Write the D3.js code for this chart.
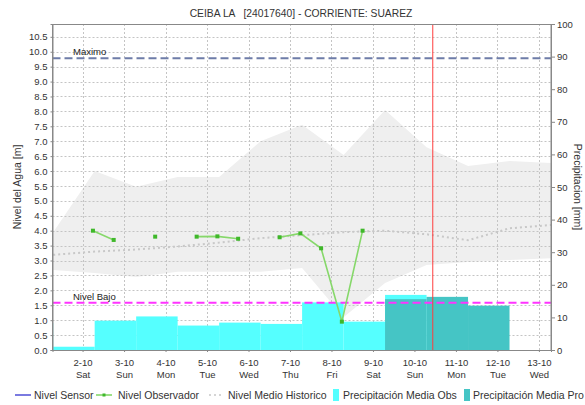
<!DOCTYPE html>
<html>
<head>
<meta charset="utf-8">
<script src="https://cdn.jsdelivr.net/npm/d3@7/dist/d3.min.js"></script>
<style>
  html, body { margin: 0; padding: 0; background: #fff; }
  svg { display: block; font-family: "Liberation Sans", Arial, sans-serif; }
</style>
</head>
<body>
<svg id="chart" width="585" height="405"></svg>
<script>
// ---- data ----
const title = "CEIBA LA   [24017640] - CORRIENTE: SUAREZ";
const year = 2021, month = 9; // October (0-based)

// x-axis day labels
const tickDays = [2, 3, 4, 5, 6, 7, 8, 9, 10, 11, 12, 13];
const tickDates = ["2-10", "3-10", "4-10", "5-10", "6-10", "7-10", "8-10", "9-10", "10-10", "11-10", "12-10", "13-10"];
const tickWeekdays = ["Sat", "Sun", "Mon", "Tue", "Wed", "Thu", "Fri", "Sat", "Sun", "Mon", "Tue", "Wed"];

// left and right axis ticks
const levelTicks = [0.0, 0.5, 1.0, 1.5, 2.0, 2.5, 3.0, 3.5, 4.0, 4.5, 5.0, 5.5, 6.0, 6.5, 7.0, 7.5, 8.0, 8.5, 9.0, 9.5, 10.0, 10.5];
const precipTicks = [0, 10, 20, 30, 40, 50, 60, 70, 80, 90, 100];

// daily precipitation (each bar covers day 07:00 -> next day 07:00; day 0 = 30-9)
const precipObsDay = [0, 1, 2, 3, 4, 5, 6, 7, 8, 9];
const precipObsMm = [8.3, 1.0, 9.0, 10.3, 7.5, 8.4, 8.0, 14.6, 8.7, 16.9];
const precipProDay = [9, 10, 11];
const precipProMm = [15.6, 16.3, 13.6];

// observer readings (day, hour, level); null = no reading
const obsDay = [2, 2, 3, 3, 4, 4, 5, 5, 6, 6, 7, 7, 8, 8];
const obsHour = [6, 18, 6, 18, 6, 18, 6, 18, 6, 18, 6, 18, 6, 18];
const obsLevel = [4.00, 3.69, null, 3.80, null, 3.80, 3.81, 3.73, null, 3.78, 3.91, 3.41, 0.95, 4.00];

// historic level envelope and mean, at 07:00 each day
const histDay = [1, 2, 3, 4, 5, 6, 7, 8, 9, 10, 11, 12, 13];
const histUpper = [3.95, 6.00, 5.47, 5.80, 5.80, 7.00, 7.55, 6.54, 8.05, 6.80, 6.17, 6.34, 6.27];
const histLower = [2.68, 2.58, 2.45, 2.62, 2.62, 2.62, 2.75, 1.10, 2.25, 2.85, 2.95, 3.02, 3.08];
const histMean = [3.19, 3.30, 3.37, 3.47, 3.60, 3.75, 3.85, 3.95, 4.00, 3.88, 3.68, 4.08, 4.19];

// reference levels
const levelMaximo = 9.78;
const levelBajo = 1.58;
const nowDay = 10, nowHour = 10.6;

// legend entries
const legendLabels = ["Nivel Sensor", "Nivel Observador", "Nivel Medio Historico", "Precipitación Media Obs", "Precipitación Media Pro"];

// ---- layout ----
const svg = d3.select("#chart");
const L = 52.5, R = 551, T = 24, B = 350;
const date = (d, h) => new Date(Date.UTC(year, month, d, 0, 0) + h * 3600e3);

const x = d3.scaleUtc().domain([date(1, 6.6), date(13, 7)]).range([L, R]);
const y = d3.scaleLinear().domain([0, 10.93]).range([B, T]);
const yP = d3.scaleLinear().domain([0, 100]).range([B, T]);

svg.append("defs").append("clipPath").attr("id", "plotclip")
  .append("rect").attr("x", L).attr("y", T).attr("width", R - L).attr("height", B - T);

const plot = svg.append("g").attr("clip-path", "url(#plotclip)");

// historic envelope
const hist = histDay.map((d, i) => ({ t: date(d, 7), lo: histLower[i], hi: histUpper[i], mean: histMean[i] }));
plot.append("path").datum(hist)
  .attr("fill", "#efefef")
  .attr("d", d3.area().x(d => x(d.t)).y0(d => y(d.lo)).y1(d => y(d.hi)));

// grid
const grid = plot.append("g").attr("stroke", "#c4c4c4").attr("stroke-width", 1).attr("stroke-dasharray", "2,2");
grid.selectAll("line.h").data(levelTicks).join("line")
  .attr("x1", L).attr("x2", R).attr("y1", d => Math.round(y(d)) + 0.5).attr("y2", d => Math.round(y(d)) + 0.5);
grid.selectAll("line.v").data(tickDays).join("line")
  .attr("y1", T).attr("y2", B).attr("x1", d => Math.round(x(date(d, 0))) + 0.5).attr("x2", d => Math.round(x(date(d, 0))) + 0.5);

// historic mean (dotted)
plot.append("path").datum(hist)
  .attr("fill", "none").attr("stroke", "#c8c8c8").attr("stroke-width", 2).attr("stroke-dasharray", "2,3")
  .attr("d", d3.line().x(d => x(d.t)).y(d => y(d.mean)));

// precipitation bars
plot.append("g").selectAll("rect").data(precipObsDay.map((d, i) => ({ d, v: precipObsMm[i] }))).join("rect")
  .attr("fill", "#55ffff")
  .attr("x", p => x(date(p.d, 7))).attr("width", p => x(date(p.d + 1, 7)) - x(date(p.d, 7)))
  .attr("y", p => yP(p.v)).attr("height", p => B - yP(p.v));
plot.append("g").selectAll("rect").data(precipProDay.map((d, i) => ({ d, v: precipProMm[i] }))).join("rect")
  .attr("fill", "#45c5c5")
  .attr("x", p => x(date(p.d, 7))).attr("width", p => x(date(p.d + 1, 7)) - x(date(p.d, 7)))
  .attr("y", p => yP(p.v)).attr("height", p => B - yP(p.v));

// reference lines
plot.append("line").attr("x1", L).attr("x2", R).attr("y1", y(levelMaximo)).attr("y2", y(levelMaximo))
  .attr("stroke", "#6e7ca8").attr("stroke-width", 2).attr("stroke-dasharray", "8,4");
plot.append("line").attr("x1", L).attr("x2", R).attr("y1", y(levelBajo)).attr("y2", y(levelBajo))
  .attr("stroke", "#ff33ff").attr("stroke-width", 2).attr("stroke-dasharray", "8,4");
svg.append("text").attr("x", 73).attr("y", y(levelMaximo) - 3).attr("font-size", 9.5).attr("fill", "#222").text("Maximo");
svg.append("text").attr("x", 73).attr("y", y(levelBajo) - 3).attr("font-size", 9.5).attr("fill", "#222").text("Nivel Bajo");

// observer readings
const obs = obsDay.map((d, i) => ({ t: date(d, obsHour[i]), v: obsLevel[i] }));
plot.append("path").datum(obs)
  .attr("fill", "none").attr("stroke", "#86d86a").attr("stroke-width", 1.6)
  .attr("d", d3.line().defined(d => d.v !== null).x(d => x(d.t)).y(d => y(d.v)));
plot.append("g").selectAll("rect").data(obs.filter(d => d.v !== null)).join("rect")
  .attr("fill", "#3fb82a")
  .attr("x", d => x(d.t) - 2).attr("y", d => y(d.v) - 2).attr("width", 4).attr("height", 4);

// current time marker
plot.append("line").attr("x1", x(date(nowDay, nowHour))).attr("x2", x(date(nowDay, nowHour)))
  .attr("y1", T).attr("y2", B).attr("stroke", "#ff3c3c").attr("stroke-width", 1);

// frame
svg.append("rect").attr("x", L).attr("y", T + 0.5).attr("width", R - L).attr("height", B - T)
  .attr("fill", "none").attr("stroke", "#888").attr("stroke-width", 1);

// axes
const axL = svg.append("g").attr("transform", `translate(${L},0)`)
  .call(d3.axisLeft(y).tickValues(levelTicks).tickFormat(d3.format(".1f")).tickSize(2).tickPadding(3));
const axR = svg.append("g").attr("transform", `translate(${R},0)`)
  .call(d3.axisRight(yP).tickValues(precipTicks).tickSize(4).tickPadding(2));
const axB = svg.append("g").attr("transform", `translate(0,${B})`)
  .call(d3.axisBottom(x).tickValues(tickDays.map(d => date(d, 0))).tickFormat("").tickSize(2));
[axL, axR, axB].forEach(a => {
  a.select(".domain").attr("stroke", "#888");
  a.selectAll(".tick line").attr("stroke", "#888");
  a.selectAll(".tick text").attr("font-size", 9.5).attr("fill", "#333").attr("font-family", "Liberation Sans, Arial, sans-serif");
});
axB.selectAll(".tick").each(function (d, i) {
  const t = d3.select(this).select("text").attr("y", 0).attr("dy", null);
  t.append("tspan").attr("x", 0).attr("y", 16).text(tickDates[i]);
  t.append("tspan").attr("x", 0).attr("y", 28).text(tickWeekdays[i]);
});

// axis titles
svg.append("text").attr("transform", `translate(21,${(T + B) / 2}) rotate(-90)`)
  .attr("text-anchor", "middle").attr("font-size", 10.5).attr("fill", "#333").text("Nivel del Agua [m]");
svg.append("text").attr("transform", `translate(574,${(T + B) / 2}) rotate(90)`)
  .attr("text-anchor", "middle").attr("font-size", 10.5).attr("fill", "#333").text("Precipitacion [mm]");

// title
svg.append("text").attr("x", 301).attr("y", 17).attr("text-anchor", "middle")
  .attr("font-size", 10.3).attr("fill", "#333").style("white-space", "pre").text(title);

// legend
const lg = svg.append("g").attr("font-size", 10.5).attr("fill", "#333");
const ly = 395;
lg.append("line").attr("x1", 15).attr("x2", 31).attr("y1", ly).attr("y2", ly).attr("stroke", "#2222cc").attr("stroke-width", 1.2);
lg.append("text").attr("x", 34).attr("y", ly + 4).text(legendLabels[0]);
lg.append("line").attr("x1", 96).attr("x2", 112).attr("y1", ly).attr("y2", ly).attr("stroke", "#86d86a").attr("stroke-width", 1.6);
lg.append("rect").attr("x", 102.5).attr("y", ly - 1.5).attr("width", 3).attr("height", 3).attr("fill", "#3fb82a");
lg.append("text").attr("x", 118).attr("y", ly + 4).text(legendLabels[1]);
lg.append("line").attr("x1", 209).attr("x2", 224).attr("y1", ly).attr("y2", ly).attr("stroke", "#c8c8c8").attr("stroke-width", 1.5).attr("stroke-dasharray", "2,3");
lg.append("text").attr("x", 228).attr("y", ly + 4).text(legendLabels[2]);
lg.append("rect").attr("x", 333).attr("y", ly - 6).attr("width", 6).attr("height", 12).attr("fill", "#55ffff");
lg.append("text").attr("x", 343).attr("y", ly + 4).text(legendLabels[3]);
lg.append("rect").attr("x", 464).attr("y", ly - 6).attr("width", 6).attr("height", 12).attr("fill", "#45c5c5");
lg.append("text").attr("x", 473).attr("y", ly + 4).text(legendLabels[4]);
</script>
</body>
</html>
